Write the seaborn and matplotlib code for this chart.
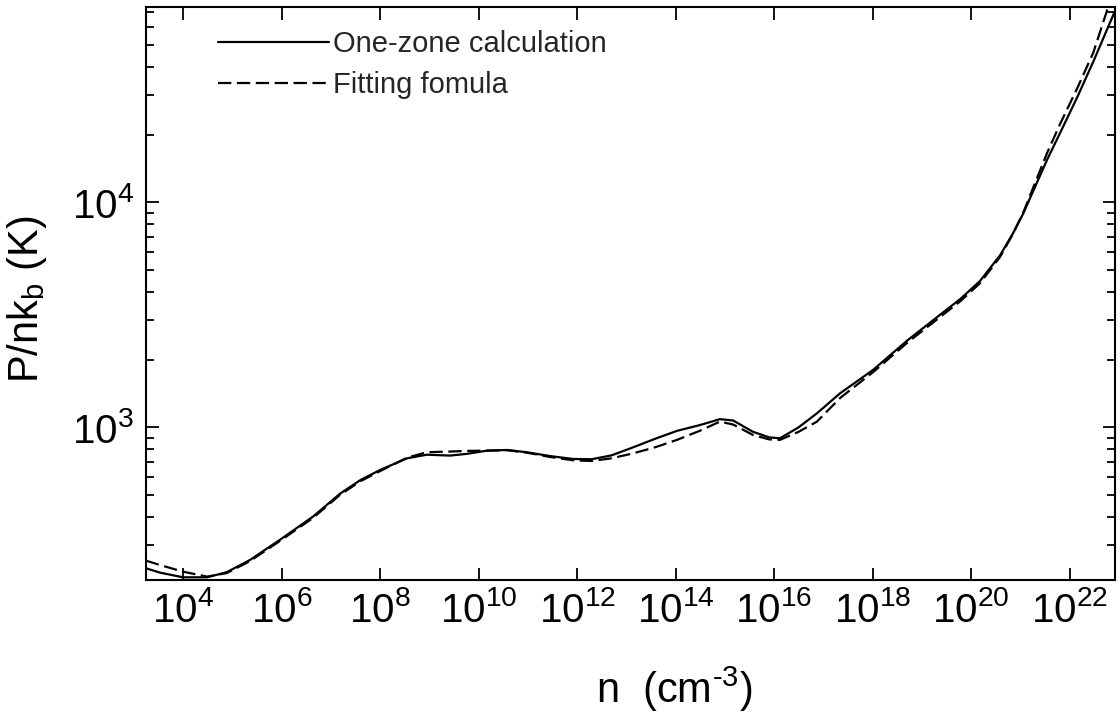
import matplotlib
matplotlib.use("Agg")
import matplotlib.pyplot as plt
from matplotlib.ticker import LogLocator, NullFormatter, NullLocator
import numpy as np
import pandas as pd
import seaborn as sns

# log10 n (cm^-3) and log10 P/nk_b (K)
LOG_N_CALC = [3.25, 3.53, 4.0, 4.49, 4.89, 5.36, 5.97, 6.64, 7.19, 7.6, 8.0, 8.55, 8.95,
              9.42, 9.77, 10.17, 10.58, 10.98, 11.45, 11.92, 12.3, 12.7, 13.14, 13.6,
              14.03, 14.5, 14.9, 15.17, 15.57, 15.9, 16.12, 16.5, 16.87, 17.34, 18.01,
              18.7, 19.37, 19.78, 20.18, 20.59, 20.85, 21.06, 21.26, 21.54, 21.81,
              22.15, 22.48, 22.92]
LOG_T_CALC = [2.373, 2.354, 2.333, 2.333, 2.356, 2.41, 2.50, 2.603, 2.705, 2.765, 2.81,
              2.862, 2.878, 2.874, 2.882, 2.896, 2.899, 2.889, 2.872, 2.859, 2.858,
              2.875, 2.911, 2.95, 2.984, 3.01, 3.036, 3.03, 2.98, 2.955, 2.951, 3.0,
              3.062, 3.151, 3.255, 3.385, 3.50, 3.57, 3.65, 3.765, 3.862, 3.951, 4.05,
              4.188, 4.31, 4.465, 4.625, 4.85]

LOG_N_FIT = [3.25, 3.53, 4.0, 4.49, 4.89, 5.36, 5.97, 6.64, 7.19, 7.6, 8.0, 8.55, 8.95,
             9.42, 9.77, 10.17, 10.58, 10.98, 11.45, 11.92, 12.3, 12.7, 13.14, 13.6,
             14.03, 14.5, 14.9, 15.17, 15.57, 15.9, 16.12, 16.5, 16.87, 17.34, 18.01,
             18.7, 19.37, 19.78, 20.18, 20.59, 20.85, 21.06, 21.26, 21.54, 21.81,
             22.15, 22.48, 22.8]
LOG_T_FIT = [2.407, 2.388, 2.358, 2.336, 2.352, 2.405, 2.495, 2.597, 2.70, 2.76, 2.805,
             2.865, 2.889, 2.892, 2.895, 2.896, 2.898, 2.887, 2.868, 2.853, 2.85,
             2.862, 2.884, 2.912, 2.944, 2.985, 3.025, 3.012, 2.966, 2.946, 2.944,
             2.98, 3.025, 3.13, 3.245, 3.375, 3.49, 3.56, 3.64, 3.758, 3.86, 3.955,
             4.065, 4.218, 4.35, 4.505, 4.665, 4.88]

X_TICK_EXP = [4, 6, 8, 10, 12, 14, 16, 18, 20, 22]
Y_TICK_EXP = [3, 4]

LABELS = ["One-zone calculation", "Fitting fomula"]

sns.set_theme(style="ticks")
plt.rcParams["font.family"] = ["Liberation Sans", "DejaVu Sans"]
plt.rcParams["mathtext.default"] = "regular"

calc = pd.DataFrame({"n": 10 ** np.array(LOG_N_CALC), "T": 10 ** np.array(LOG_T_CALC)})
fit = pd.DataFrame({"n": 10 ** np.array(LOG_N_FIT), "T": 10 ** np.array(LOG_T_FIT)})

fig = plt.figure(figsize=(11.2, 7.15), dpi=100)
ax = fig.add_axes([0.1304, 0.1888, 0.8651, 0.8014])

sns.lineplot(data=calc, x="n", y="T", ax=ax, color="black", lw=1.6,
             label=LABELS[0], sort=False)
sns.lineplot(data=fit, x="n", y="T", ax=ax, color="black", lw=1.6,
             label=LABELS[1], sort=False)
ax.lines[1].set_dashes((6, 2.5))

ax.set_xscale("log")
ax.set_yscale("log")
ax.set_xlim(10 ** 3.25, 10 ** 22.92)
ax.set_ylim(10 ** 2.321, 10 ** 4.868)

ax.set_xticks([10.0 ** e for e in X_TICK_EXP])
ax.set_xticklabels([f"$10^{{{e}}}$" for e in X_TICK_EXP])
ax.xaxis.set_minor_locator(NullLocator())
ax.set_yticks([10.0 ** e for e in Y_TICK_EXP])
ax.set_yticklabels([f"$10^{{{e}}}$" for e in Y_TICK_EXP])
ax.yaxis.set_minor_locator(LogLocator(base=10, subs=np.arange(2, 10)))
ax.yaxis.set_minor_formatter(NullFormatter())

ax.tick_params(which="both", direction="in", top=True, right=True, width=1.3,
               color="black", labelsize=29, labelcolor="black")
ax.tick_params(which="major", length=9)
ax.tick_params(which="minor", length=6)
ax.tick_params(axis="x", pad=8)
ax.tick_params(axis="y", pad=9)
for s in ax.spines.values():
    s.set_linewidth(1.5)
    s.set_color("black")

ax.set_xlabel("n  (cm$^{\u20103}$)", fontsize=30, color="black")
ax.xaxis.set_label_coords(0.545, -0.148)
ax.set_ylabel("P/nk$_b$ (K)", fontsize=30, color="black")
ax.yaxis.set_label_coords(-0.10, 0.49)

leg = ax.legend(loc="upper left", bbox_to_anchor=(0.047, 1.006), frameon=False,
                fontsize=21, handlelength=3.8, handletextpad=0.15, labelspacing=0.45)
for h in leg.get_lines():
    h.set_linewidth(1.6)
leg.get_lines()[1].set_dashes((6, 2.5))

fig.savefig("out.png", dpi=100)
